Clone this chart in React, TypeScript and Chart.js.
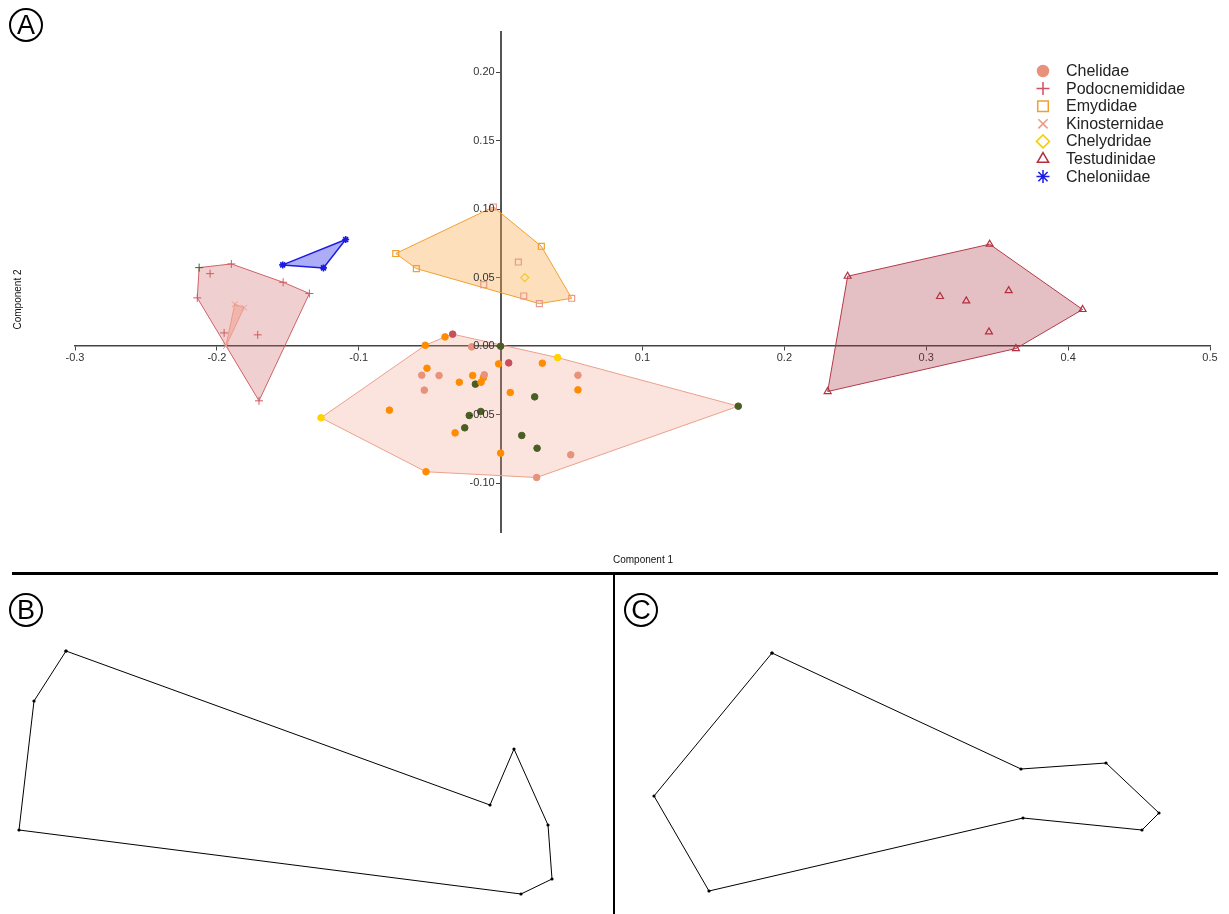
import React, { useEffect, useRef } from 'react';
import { Chart, registerables } from 'chart.js';
import { drawPoint } from 'chart.js/helpers';

Chart.register(...registerables);
Chart.defaults.font.family = "'Liberation Sans', Arial, sans-serif";

type P = [number, number];

// ---- Panel A: PCA scores (Component 1, Component 2) ----
const chelidaePts: P[] = [
  [-0.0204, -0.0005], [-0.0556, -0.0212], [-0.0434, -0.0214], [-0.0115, -0.0209],
  [0.0545, -0.0212], [-0.0538, -0.0321], [0.0494, -0.0793], [0.0254, -0.0959],
];
const orangeCirclePts: P[] = [
  [-0.0531, 0.0007], [-0.0392, 0.0068], [-0.0014, -0.0129], [0.0294, -0.0124],
  [-0.0519, -0.0161], [-0.0197, -0.0214], [-0.0122, -0.0231], [-0.0138, -0.0263],
  [-0.0291, -0.0263], [0.0545, -0.0319], [0.0068, -0.0338], [-0.0784, -0.0467],
  [-0.0321, -0.0633], [0.0, -0.0781], [-0.0526, -0.0917],
];
const greenCirclePts: P[] = [
  [0.0, 0.0], [-0.0178, -0.0277], [0.024, -0.037], [-0.014, -0.0477],
  [-0.0221, -0.0506], [-0.0253, -0.0596], [0.0149, -0.0652], [0.0257, -0.0745],
  [0.1675, -0.0438],
];
const yellowCirclePts: P[] = [[-0.1266, -0.0523], [0.0402, -0.0083]];
const crimsonCirclePts: P[] = [[-0.0338, 0.0088], [0.0057, -0.0122]];
const circleHull: P[] = [
  [-0.1266, -0.0523], [-0.0531, 0.0007], [-0.0392, 0.0068], [-0.0338, 0.0088],
  [0.0402, -0.0083], [0.1675, -0.0438], [0.0254, -0.0959], [-0.0526, -0.0917],
];

const podocnemididaePts: P[] = [
  [-0.2048, 0.053], [-0.1898, 0.0601], [-0.1533, 0.0467], [-0.1348, 0.0385],
  [-0.2138, 0.0353], [-0.1949, 0.0097], [-0.1712, 0.0083], [-0.1703, -0.0399],
];
const greenCrossPts: P[] = [[-0.2125, 0.0574]];
const podocnemididaeHull: P[] = [
  [-0.2125, 0.0574], [-0.1898, 0.0601], [-0.1533, 0.0467], [-0.1348, 0.0385],
  [-0.1703, -0.0399], [-0.2138, 0.0353],
];

const kinosternidaePts: P[] = [[-0.1874, 0.0307], [-0.1808, 0.0282], [-0.1937, 0.0]];
const kinosternidaeHull: P[] = [[-0.1874, 0.0307], [-0.1808, 0.0282], [-0.1937, 0.0]];

const emydidaeOrangePts: P[] = [[-0.0739, 0.0677], [-0.0594, 0.0567], [0.0287, 0.073]];
const emydidaeSalmonPts: P[] = [
  [-0.0051, 0.1017], [0.0125, 0.0615], [-0.0119, 0.045], [0.0163, 0.0367],
  [0.0273, 0.0311], [0.0501, 0.035],
];
const emydidaeHull: P[] = [
  [-0.0739, 0.0677], [-0.0051, 0.1017], [0.0287, 0.073], [0.0501, 0.035],
  [0.0273, 0.0311], [-0.0594, 0.0567],
];
const chelydridaePts: P[] = [[0.017, 0.0501]];

const testudinidaePts: P[] = [
  [0.2446, 0.0511], [0.3447, 0.0745], [0.4102, 0.0268], [0.3632, -0.0017],
  [0.2305, -0.0331], [0.3097, 0.0363], [0.3282, 0.0331], [0.3581, 0.0406],
  [0.3442, 0.0105],
];
const testudinidaeHull: P[] = [
  [0.2446, 0.0511], [0.3447, 0.0745], [0.4102, 0.0268], [0.3632, -0.0017], [0.2305, -0.0331],
];

const cheloniidaePts: P[] = [[-0.1536, 0.0594], [-0.1092, 0.0779], [-0.1249, 0.0572]];

const legendLabels = [
  'Chelidae', 'Podocnemididae', 'Emydidae', 'Kinosternidae',
  'Chelydridae', 'Testudinidae', 'Cheloniidae',
];
const legendStyles = ['circle', 'cross', 'rect', 'crossRot', 'rectRot', 'triangle', 'star'];
const legendColors = ['#e8927c', '#cf5060', '#f0a030', '#eb9a88', '#f5cc10', '#b33040', '#1a1ae6'];
const legendFilled = [true, false, false, false, false, false, false];

const xTickStep = 0.1;
const yTickStep = 0.05;

// ---- Panels B and C: landmark outlines ----
const outlineB: P[] = [
  [-0.24, 0.094], [-0.272, 0.044], [-0.287, -0.085], [0.215, -0.149],
  [0.246, -0.134], [0.242, -0.08], [0.208, -0.004], [0.184, -0.06],
];
const outlineC: P[] = [
  [-0.149, 0.092], [-0.267, -0.051], [-0.212, -0.146], [0.102, -0.073],
  [0.221, -0.085], [0.238, -0.068], [0.185, -0.018], [0.1, -0.024],
];

const toXY = (pts: P[]) => pts.map(([x, y]) => ({ x, y }));

const hull = (pts: P[], fill: string, stroke: string, order: number, width = 1) => ({
  data: toXY([...pts, pts[0]]),
  showLine: true,
  fill: 'shape',
  backgroundColor: fill,
  borderColor: stroke,
  borderWidth: width,
  pointRadius: 0,
  pointHoverRadius: 0,
  tension: 0,
  order,
});

const marks = (pts: P[], style: string, color: string, radius: number, filled: boolean, bw = 1) => ({
  data: toXY(pts),
  showLine: false,
  pointStyle: style,
  pointRadius: radius,
  pointHoverRadius: radius,
  pointBackgroundColor: filled ? color : 'rgba(0,0,0,0)',
  pointBorderColor: color,
  pointBorderWidth: bw,
  order: 0,
});

const fontFamily = "'Liberation Sans', Arial, sans-serif";

// Family legend in the upper right corner of the score plot
const legendPlugin = {
  id: 'familyLegend',
  afterDraw(chart: any) {
    const ctx = chart.ctx as CanvasRenderingContext2D;
    ctx.save();
    legendLabels.forEach((label, i) => {
      const y = 71 + i * 17.6;
      const color = legendColors[i];
      ctx.fillStyle = legendFilled[i] ? color : 'rgba(0,0,0,0)';
      ctx.strokeStyle = color;
      ctx.lineWidth = 1.5;
      const r = legendStyles[i] === 'rect' ? 7.5 : legendStyles[i] === 'circle' ? 5.5 : 6.5;
      drawPoint(ctx, { pointStyle: legendStyles[i] as any, radius: r, borderWidth: 1.5, rotation: 0 }, 1043, y);
      ctx.fillStyle = '#222';
      ctx.font = `16px ${fontFamily}`;
      ctx.textBaseline = 'middle';
      ctx.textAlign = 'left';
      ctx.fillText(label, 1066, y + 0.5);
    });
    ctx.restore();
  },
};

// Y tick labels, right-aligned to the left of the centred vertical axis
const yLabelPlugin = {
  id: 'yTickLabels',
  afterDraw(chart: any) {
    const ctx = chart.ctx as CanvasRenderingContext2D;
    const xs = chart.scales.x;
    const ys = chart.scales.y;
    const axisX = xs.getPixelForValue(0);
    ctx.save();
    ctx.fillStyle = '#333';
    ctx.font = `11px ${fontFamily}`;
    ctx.textAlign = 'right';
    ctx.textBaseline = 'middle';
    ys.ticks.forEach((t: any) => {
      const v = t.value;
      const text = Math.abs(v) < 1e-9 ? '0.00' : Number(v).toFixed(2);
      ctx.fillText(text, axisX - 6, ys.getPixelForValue(v));
    });
    ctx.restore();
  },
};

function ScoresChart() {
  const ref = useRef<HTMLCanvasElement | null>(null);
  useEffect(() => {
    if (!ref.current) return;
    const chart = new Chart(ref.current, {
      type: 'scatter',
      data: {
        datasets: [
          marks(chelidaePts, 'circle', '#e8927c', 3.3, true),
          marks(orangeCirclePts, 'circle', '#ff8c00', 3.3, true),
          marks(greenCirclePts, 'circle', '#4a5e24', 3.3, true),
          marks(yellowCirclePts, 'circle', '#ffd200', 3.3, true),
          marks(crimsonCirclePts, 'circle', '#c8505a', 3.3, true),
          marks(podocnemididaePts, 'cross', '#d05a60', 4, false),
          marks(greenCrossPts, 'cross', '#4a5e24', 4, false),
          marks(kinosternidaePts, 'crossRot', '#eb9a88', 4, false),
          marks(emydidaeOrangePts, 'rect', '#f0a030', 4.2, false, 1.2),
          marks(emydidaeSalmonPts, 'rect', '#e89a88', 4.2, false, 1.2),
          marks(chelydridaePts, 'rectRot', '#f5cc10', 4, false, 1.2),
          marks(testudinidaePts, 'triangle', '#b33040', 4, false, 1.2),
          marks(cheloniidaePts, 'star', '#1a1ae6', 3.5, false, 1.6),
          hull(kinosternidaeHull, 'rgba(240,150,130,0.45)', '#eb9a88', 9),
          hull(circleHull, 'rgba(240,150,125,0.26)', '#eba08c', 10),
          hull(podocnemididaeHull, 'rgba(205,95,100,0.3)', '#d06068', 10),
          hull(emydidaeHull, 'rgba(250,170,80,0.38)', '#f0a030', 10),
          hull(testudinidaeHull, 'rgba(170,60,70,0.32)', '#b33a48', 10),
          hull(cheloniidaePts, 'rgba(40,40,235,0.38)', '#1a1ae6', 10, 1.5),
        ] as any,
      },
      options: {
        animation: false,
        responsive: false,
        layout: { padding: { left: 75, right: 19, top: 32, bottom: 41 }, autoPadding: false } as any,
        plugins: {
          legend: { display: false },
          tooltip: { enabled: false },
        },
        scales: {
          x: {
            type: 'linear',
            min: -0.3,
            max: 0.5,
            position: { y: 0 } as any,
            grid: { display: true, drawOnChartArea: false, drawTicks: true, tickLength: 4, tickColor: '#444' },
            border: { display: true, color: '#444', width: 1.5 },
            ticks: {
              stepSize: xTickStep,
              autoSkip: false,
              maxRotation: 0,
              padding: 1,
              color: '#333',
              font: { size: 11 },
              callback: (v: any) => (Math.abs(v) < 1e-9 ? '' : Number(v).toFixed(1)),
            },
          },
          y: {
            type: 'linear',
            min: -0.1357,
            max: 0.2295,
            position: { x: 0 } as any,
            grid: { display: true, drawOnChartArea: false, drawTicks: true, tickLength: 4, tickColor: '#444' },
            border: { display: true, color: '#555', width: 2 },
            ticks: {
              stepSize: yTickStep,
              includeBounds: false,
              autoSkip: false,
              display: false,
            },
          },
        },
      },
      plugins: [legendPlugin, yLabelPlugin],
    });
    return () => chart.destroy();
  }, []);
  return <canvas ref={ref} width={1229} height={573} style={{ position: 'absolute', left: 0, top: 0 }} />;
}

function OutlineChart({ pts, left, width, xMin, xMax }: { pts: P[]; left: number; width: number; xMin: number; xMax: number }) {
  const ref = useRef<HTMLCanvasElement | null>(null);
  useEffect(() => {
    if (!ref.current) return;
    const chart = new Chart(ref.current, {
      type: 'scatter',
      data: {
        datasets: [
          {
            data: toXY([...pts, pts[0]]),
            showLine: true,
            borderColor: '#000',
            borderWidth: 1,
            pointRadius: 1.6,
            pointBackgroundColor: '#000',
            pointBorderColor: '#000',
            pointBorderWidth: 0,
            tension: 0,
          } as any,
        ],
      },
      options: {
        animation: false,
        responsive: false,
        layout: { padding: 0, autoPadding: false } as any,
        plugins: { legend: { display: false }, tooltip: { enabled: false } },
        scales: {
          x: { type: 'linear', min: xMin, max: xMax, display: false },
          y: { type: 'linear', min: -0.169, max: 0.169, display: false },
        },
      },
    });
    return () => chart.destroy();
  }, []);
  return <canvas ref={ref} width={width} height={338} style={{ position: 'absolute', left, top: 576 }} />;
}

function Circled({ letter, cx, cy }: { letter: string; cx: number; cy: number }) {
  return (
    <div
      style={{
        position: 'absolute',
        left: cx - 17,
        top: cy - 17,
        width: 34,
        height: 34,
        boxSizing: 'border-box',
        border: '2px solid #000',
        borderRadius: '50%',
        display: 'flex',
        alignItems: 'center',
        justifyContent: 'center',
        fontFamily,
        fontSize: 27,
        lineHeight: 1,
        color: '#000',
        zIndex: 2,
      }}
    >
      {letter}
    </div>
  );
}

export default function App() {
  return (
    <div style={{ position: 'absolute', left: 0, top: 0, width: 1229, height: 914, background: '#fff', overflow: 'hidden' }}>
      <ScoresChart />
      <div
        style={{
          position: 'absolute', left: -33, top: 294, width: 100, textAlign: 'center',
          transform: 'rotate(-90deg)', fontFamily, fontSize: 10, color: '#111',
        }}
      >
        Component 2
      </div>
      <div
        style={{
          position: 'absolute', left: 593, top: 554, width: 100, textAlign: 'center',
          fontFamily, fontSize: 10, color: '#111',
        }}
      >
        Component 1
      </div>
      <Circled letter="A" cx={26} cy={25} />
      <OutlineChart pts={outlineB} left={0} width={612} xMin={-0.306} xMax={0.306} />
      <OutlineChart pts={outlineC} left={614} width={615} xMin={-0.307} xMax={0.308} />
      <div style={{ position: 'absolute', left: 12, top: 572, width: 1206, height: 3, background: '#000', zIndex: 2 }} />
      <div style={{ position: 'absolute', left: 613, top: 574, width: 2, height: 340, background: '#000', zIndex: 2 }} />
      <Circled letter="B" cx={26} cy={610} />
      <Circled letter="C" cx={641} cy={610} />
    </div>
  );
}
